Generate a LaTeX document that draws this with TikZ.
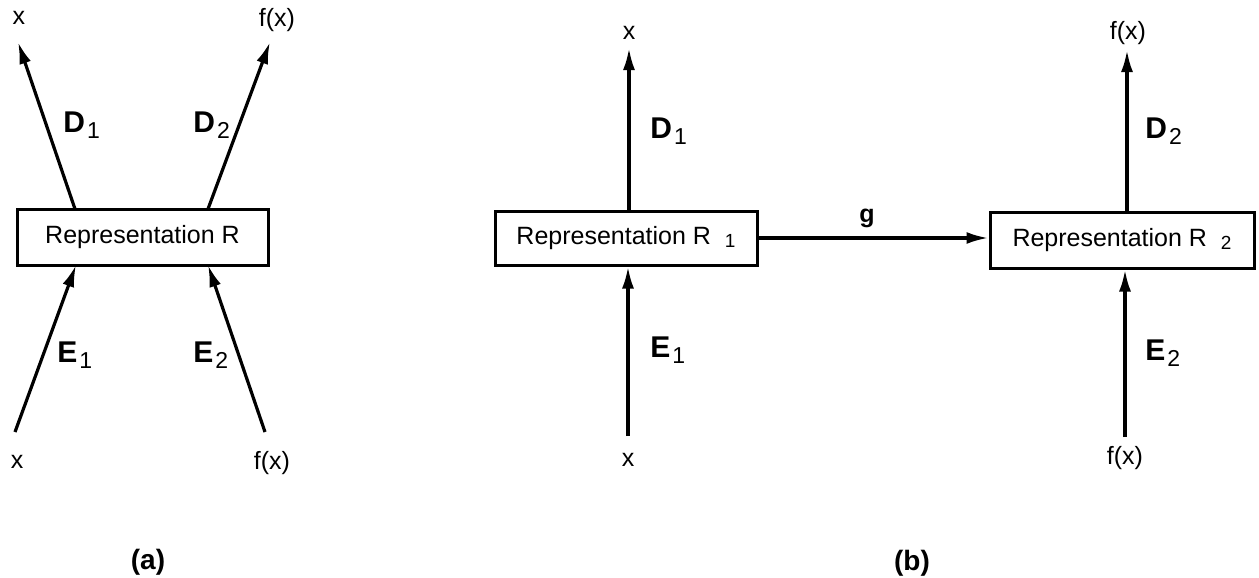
\documentclass[tikz,border=0pt]{standalone}
\usepackage{fontspec}
\setmainfont{Liberation Sans}
\usetikzlibrary{arrows.meta}
\newcommand{\lab}[2]{{\fontsize{15}{16}\selectfont\bfseries #1}\kern1pt\raisebox{-3pt}{\fontsize{11.5}{12}\selectfont #2}}
\begin{document}
\begin{tikzpicture}[x=0.5pt,y=-0.5pt,
  box/.style={draw,line width=1.5pt,inner sep=0,font=\fontsize{12.5}{14}\selectfont},
  arr/.style={line width=1.6pt,-{Latex[length=11pt,width=6pt]}},
  txt/.style={inner sep=0,font=\fontsize{12.5}{14}\selectfont},
  sym/.style={inner sep=0,anchor=base west},
  captxt/.style={inner sep=0,font=\fontsize{14}{16}\selectfont\bfseries}]
\useasboundingbox (0,0) rectangle (1259,578);
% ---------- (a) ----------
\node[box,minimum width=125.5pt,minimum height=28pt] (ra) at (142.5,237) {Representation R};
\node[txt] (xa1) at (19,18) {x};
\node[txt] (fa1) at (277,20) {f(x)};
\node[txt] (xa2) at (17,462) {x};
\node[txt] (fa2) at (272,463) {f(x)};
\coordinate (d1s) at (75,209);
\coordinate (d1e) at (18,42);
\coordinate (d2s) at (208,209);
\coordinate (d2e) at (270,42);
\coordinate (e1s) at (15,432);
\coordinate (e1e) at (76,265);
\coordinate (e2s) at (265,432);
\coordinate (e2e) at (208,265);
\draw[arr] (d1s) -- (d1e);
\draw[arr] (d2s) -- (d2e);
\draw[arr] (e1s) -- (e1e);
\draw[arr] (e2s) -- (e2e);
\node[sym] (la1) at (63,132) {\lab{D}{1}};
\node[sym] (la2) at (193,132) {\lab{D}{2}};
\node[sym] (la3) at (57,362) {\lab{E}{1}};
\node[sym] (la4) at (193,362) {\lab{E}{2}};
\node[captxt] (capa) at (148,562) {(a)};
% ---------- (b) ----------
\node[box,minimum width=131pt,minimum height=27pt] (r1) at (626,238) {Representation R\ \ \raisebox{-1.5pt}{\fontsize{9.5}{10}\selectfont 1}};
\node[box,minimum width=132pt,minimum height=28pt] (r2) at (1122,240) {Representation R\ \ \raisebox{-1.5pt}{\fontsize{9.5}{10}\selectfont 2}};
\node[txt] (xb1) at (629,33) {x};
\node[txt] (fb1) at (1128,33) {f(x)};
\node[txt] (xb2) at (628,460) {x};
\node[txt] (fb2) at (1125,458) {f(x)};
\coordinate (bd1e) at (629,48);
\coordinate (bd2e) at (1127,50);
\coordinate (be1s) at (628,436);
\coordinate (be2s) at (1125,437);
\draw[arr] (r1.north -| bd1e) -- (bd1e);
\draw[arr] (r2.north -| bd2e) -- (bd2e);
\draw[arr] (be1s) -- (r1.south -| be1s);
\draw[arr] (be2s) -- (r2.south -| be2s);
\draw[arr] (r1.east) -- (r1.east -| r2.west);
\node[txt,font=\fontsize{12.5}{14}\selectfont\bfseries] (g) at (867,218) {g};
\node[sym] (lb1) at (650,138) {\lab{D}{1}};
\node[sym] (lb2) at (1145,138) {\lab{D}{2}};
\node[sym] (lb3) at (650,357) {\lab{E}{1}};
\node[sym] (lb4) at (1145,360) {\lab{E}{2}};
\node[captxt] (capb) at (912,563) {(b)};
\end{tikzpicture}
\end{document}
